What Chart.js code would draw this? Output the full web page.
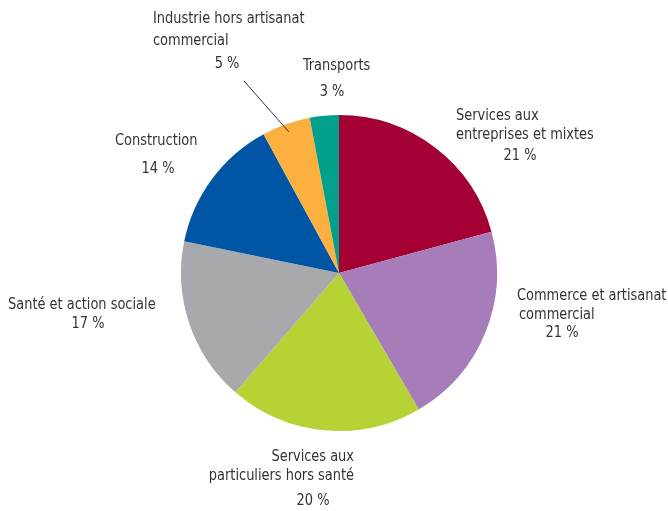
<!DOCTYPE html>
<html>
<head>
<meta charset="utf-8">
<script src="https://cdn.jsdelivr.net/npm/chart.js@4"></script>
<style>
  body { margin: 0; background: #fff; }
  canvas { display: block; }
</style>
</head>
<body>
<canvas id="secteurs" width="668" height="511"></canvas>
<script>
const secteurs = [
    'Services aux entreprises et mixtes',
    'Commerce et artisanat commercial',
    'Services aux particuliers hors santé',
    'Santé et action sociale',
    'Construction',
    'Industrie hors artisanat commercial',
    'Transports'
];
const parts = [21, 21, 20, 17, 14, 5, 3];
const couleurs = ['#a50034', '#a77db9', '#b5d334', '#a7a9ac', '#0055a5', '#fbb040', '#00a08a'];

// label blocks: each line with its own position
const etiquettes = [
    [['Services aux', 456, 116, 'left'], ['entreprises et mixtes', 456, 135, 'left'], ['%', 520, 156, 'center']],
    [['Commerce et artisanat', 517, 296, 'left'], ['commercial', 519, 315, 'left'], ['%', 562, 333, 'center']],
    [['Services aux', 354, 457, 'right'], ['particuliers hors santé', 354, 476, 'right'], ['%', 313, 501, 'center']],
    [['Santé et action sociale', 8, 305, 'left'], ['%', 88, 324, 'center']],
    [['Construction', 115, 141, 'left'], ['%', 158, 169, 'center']],
    [['Industrie hors artisanat', 153, 19, 'left'], ['commercial', 153, 41, 'left'], ['%', 227, 64, 'center']],
    [['Transports', 303, 66, 'left'], ['%', 332, 92, 'center']]
];

const etiquettesPlugin = {
    id: 'etiquettes',
    afterDraw(chart) {
        const ctx = chart.ctx;
        const meta = chart.getDatasetMeta(0);
        ctx.save();
        ctx.font = '16px "Liberation Sans Narrow", "DejaVu Sans Condensed", sans-serif';
        ctx.fillStyle = '#333333';
        ctx.textBaseline = 'middle';
        etiquettes.forEach((bloc, i) => {
            bloc.forEach(([txt, x, y, align]) => {
                // narrow the glyphs a little, like a condensed face
                ctx.save();
                ctx.translate(x, y);
                ctx.scale(0.9, 1);
                ctx.textAlign = align;
                ctx.fillText(txt === '%' ? parts[i] + ' %' : txt, 0, 0);
                ctx.restore();
            });
        });
        // leader line for the small industry slice
        const arc = meta.data[5];
        const mid = (arc.startAngle + arc.endAngle) / 2;
        const r = arc.outerRadius;
        ctx.strokeStyle = '#333333';
        ctx.lineWidth = 1;
        ctx.beginPath();
        ctx.moveTo(arc.x + Math.cos(mid) * (r - 8), arc.y + Math.sin(mid) * (r - 8));
        ctx.lineTo(244, 81);
        ctx.stroke();
        ctx.restore();
    }
};

new Chart(document.getElementById('secteurs'), {
    type: 'pie',
    data: {
        labels: secteurs,
        datasets: [{
            data: parts,
            backgroundColor: couleurs,
            borderWidth: 0
        }]
    },
    options: {
        responsive: false,
        animation: false,
        layout: { padding: { top: 115, bottom: 80, left: 10, right: 0 } },
        plugins: {
            legend: { display: false },
            tooltip: { enabled: false }
        }
    },
    plugins: [etiquettesPlugin]
});
</script>
</body>
</html>
